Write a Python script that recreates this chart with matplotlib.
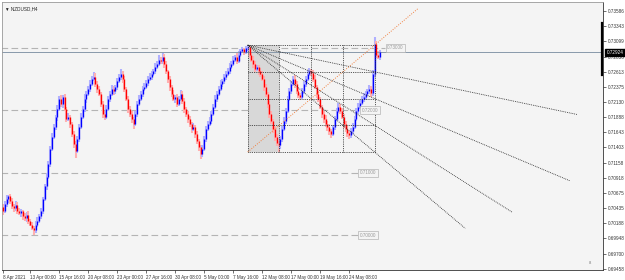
import matplotlib
matplotlib.use('Agg')
import matplotlib.pyplot as plt
from matplotlib.transforms import blended_transform_factory
from matplotlib.patches import Rectangle

# ---------------- data ----------------
first_open = 0.7045
closes = [
    0.7039, 0.7050, 0.7058, 0.7062, 0.7054, 0.7047, 0.7043, 0.7049, 0.7039, 0.7035, 0.7038,
    0.7030, 0.7027, 0.7033, 0.7023, 0.7017, 0.7012, 0.7009, 0.7017, 0.7023, 0.7030,
    0.7039, 0.7058, 0.7078, 0.7093, 0.7114, 0.7138, 0.7157, 0.7173, 0.7189, 0.7202,
    0.7218, 0.7210, 0.7221, 0.7202, 0.7186, 0.7189, 0.7178, 0.7162, 0.7146, 0.7135,
    0.7154, 0.7173, 0.7189, 0.7202, 0.7218, 0.7226, 0.7234, 0.7242, 0.7250, 0.7253,
    0.7242, 0.7234, 0.7226, 0.7210, 0.7194, 0.7189, 0.7202, 0.7218, 0.7226, 0.7234, 0.7230,
    0.7237, 0.7246, 0.7253, 0.7258, 0.7250, 0.7234, 0.7218, 0.7202, 0.7194, 0.7186,
    0.7178, 0.7194, 0.7210, 0.7218, 0.7226, 0.7234, 0.7237, 0.7243, 0.7250, 0.7253,
    0.7258, 0.7262, 0.7269, 0.7274, 0.7281, 0.7278, 0.7285, 0.7274, 0.7262, 0.7250,
    0.7237, 0.7226, 0.7218, 0.7221, 0.7210, 0.7218, 0.7226, 0.7215, 0.7202, 0.7194,
    0.7186, 0.7178, 0.7170, 0.7173, 0.7162, 0.7151, 0.7141, 0.7130, 0.7138, 0.7154,
    0.7170, 0.7178, 0.7183, 0.7194, 0.7205, 0.7218, 0.7226, 0.7234, 0.7242, 0.7246, 0.7253,
    0.7258, 0.7262, 0.7269, 0.7274, 0.7281, 0.7285, 0.7278, 0.7289, 0.7294, 0.7297, 0.7293, 0.7299, 0.7301,
    0.7289, 0.7281, 0.7274, 0.7266, 0.7269, 0.7262, 0.7258, 0.7250, 0.7237, 0.7226, 0.7210, 0.7194, 0.7183, 0.7170, 0.7157, 0.7148, 0.7144,
    0.7154, 0.7170, 0.7183, 0.7199, 0.7218, 0.7230, 0.7242, 0.7250, 0.7242, 0.7230,
    0.7224, 0.7221, 0.7230, 0.7242, 0.7250, 0.7258, 0.7262, 0.7259,
    0.7250, 0.7237, 0.7226, 0.7218, 0.7205, 0.7194, 0.7186, 0.7178, 0.7173, 0.7167, 0.7162, 0.7173,
    0.7186, 0.7199, 0.7205, 0.7199, 0.7189, 0.7178,
    0.7170, 0.7164, 0.7160, 0.7167, 0.7173, 0.7186, 0.7199, 0.7205,
    0.7211, 0.7218, 0.7221, 0.7226, 0.7230, 0.7234, 0.7227,
    0.7258, 0.7305, 0.7289, 0.7285, 0.72924,
]
upper_wick_pips = [
    5, 4, 6, 3, 4, 5, 3, 6, 4, 5, 4,
    3, 5, 4, 6, 3, 4, 3, 5, 6, 4,
    5, 3, 4, 6, 5, 4, 7, 5, 4, 6,
    5, 6, 4, 5, 3, 6, 4, 3, 4, 5,
    4, 5, 6, 4, 7, 5, 4, 6, 5, 8,
    6, 5, 4, 3, 5, 4, 6, 5, 4, 6, 5,
    4, 6, 5, 7, 4, 5, 3, 4, 5, 4,
    3, 5, 4, 6, 5, 4, 6, 5, 4, 6,
    5, 4, 6, 5, 7, 4, 6, 5, 4, 3,
    5, 4, 6, 3, 5, 4, 6, 5, 4, 3,
    4, 5, 3, 6, 4, 5, 3, 4, 6, 5,
    4, 5, 6, 4, 5, 6, 4, 5, 6, 4, 5,
    4, 5, 6, 4, 5, 4, 6, 5, 3, 4, 3, 3, 3,
    2, 4, 6, 5, 4, 3, 6, 5, 4, 5, 3, 4, 5, 3, 4, 5, 3,
    4, 5, 6, 4, 5, 6, 4, 5, 6, 4,
    5, 4, 6, 5, 4, 6, 5, 4,
    5, 6, 4, 5, 3, 4, 5, 6, 4, 5, 3, 4,
    5, 4, 6, 5, 4, 5,
    4, 5, 3, 4, 6, 5, 4, 6,
    5, 4, 6, 5, 4, 6, 5,
    6, 12, 6, 5, 4,
]
lower_wick_pips = [
    6, 4, 5, 7, 4, 5, 6, 4, 5, 3, 6,
    5, 4, 6, 5, 3, 4, 8, 5, 4, 3,
    4, 5, 3, 6, 4, 5, 3, 4, 5, 6,
    4, 5, 6, 4, 5, 3, 6, 5, 7, 12,
    4, 5, 3, 4, 5, 6, 4, 5, 3, 4,
    5, 6, 4, 5, 7, 5, 4, 3, 5, 4, 6,
    4, 5, 3, 4, 6, 5, 4, 6, 5, 7,
    8, 4, 5, 3, 4, 5, 4, 3, 5, 4,
    4, 3, 5, 4, 3, 5, 4, 6, 5, 7,
    6, 5, 4, 6, 5, 4, 3, 5, 6, 5,
    6, 5, 7, 4, 6, 5, 7, 8, 5, 4,
    5, 4, 3, 5, 4, 3, 5, 4, 3, 5, 4,
    4, 3, 5, 4, 3, 4, 5, 3, 4, 3, 4, 3, 4,
    5, 4, 6, 5, 4, 6, 5, 4, 6, 5, 7, 6, 5, 6, 7, 5, 11,
    6, 5, 4, 5, 3, 4, 5, 4, 6, 5,
    4, 5, 3, 4, 5, 4, 3, 4,
    5, 4, 6, 5, 4, 6, 7, 5, 6, 7, 6, 4,
    5, 4, 3, 5, 4, 6,
    5, 7, 6, 4, 5, 3, 4, 5,
    4, 3, 5, 4, 3, 4, 6,
    4, 5, 5, 4, 5,
]

x_tick_pos = [0, 15, 31, 47, 63, 79, 95, 111, 127, 143, 159, 175, 191]
x_tick_labels = ['8 Apr 2021', '13 Apr 00:00', '15 Apr 16:00', '20 Apr 08:00',
                 '23 Apr 00:00', '27 Apr 16:00', '30 Apr 08:00', '5 May 00:00',
                 '7 May 16:00', '12 May 08:00', '17 May 00:00', '19 May 16:00',
                 '24 May 08:00']
y_ticks = [0.73586, 0.73343, 0.73099, 0.72856, 0.72613, 0.72375, 0.72130, 0.71888,
           0.71643, 0.71403, 0.71158, 0.70918, 0.70675, 0.70435, 0.70188, 0.69948,
           0.69700, 0.69458]
y_tick_labels = ['%.5f' % v for v in y_ticks]

fib_levels = [0.7300, 0.7200, 0.7100, 0.7000]
fib_labels = ['0.73000', '0.72000', '0.71000', '0.70000']
fib_line_end = [211, 197, 196, 196]

gann_t0, gann_t1 = 135, 205
gann_hi, gann_lo = 0.7304, 0.7133
fan_ends = [317, 313, 281, 255]
symbol = 'NZDUSD,H4'

# ---------------- figure ----------------
W, H = 625, 280
fig = plt.figure(figsize=(W / 100, H / 100), dpi=100, facecolor='white')
ax = fig.add_axes([2 / W, 10 / H, 601 / W, 268 / H])
ax.set_facecolor('#f4f4f4')
ax.set_xlim(-0.55, 331.0)
ax.set_ylim(0.69442, 0.73730)

FONT = ['Liberation Sans', 'DejaVu Sans']
FS = 3.3

# round levels
for lvl, lab, xe in zip(fib_levels, fib_labels, fib_line_end):
    ax.plot([-1, xe], [lvl, lvl], color='#b4b4b4', lw=0.8, dashes=(6, 3), zorder=1)
    ax.text(xe + 1, lvl, lab, fontsize=FS, family=FONT, color='#9a9a9a',
            va='center', ha='left', zorder=6,
            bbox=dict(boxstyle='square,pad=0.35', fc='#f4f4f4', ec='#b4b4b4', lw=0.5))

# Gann box shading and grid
ax.add_patch(Rectangle((gann_t0, gann_lo), (gann_t1 - gann_t0) / 4, gann_hi - gann_lo,
                       facecolor='#d8d8d8', edgecolor='none', zorder=1))
DOT = (0, (1, 1.2))
for k in range(5):
    xv = gann_t0 + k * (gann_t1 - gann_t0) / 4
    ax.plot([xv, xv], [gann_lo, gann_hi], color='#222222', lw=0.6, ls=DOT, zorder=4)
    yv = gann_hi - k * (gann_hi - gann_lo) / 4
    ax.plot([gann_t0, gann_t1], [yv, yv], color='#222222', lw=0.6, ls=DOT, zorder=4)

# fan lines
for k, xe in enumerate(fan_ends, start=1):
    ye_box = gann_hi - k * (gann_hi - gann_lo) / 4
    slope = (ye_box - gann_hi) / (gann_t1 - gann_t0)
    ax.plot([gann_t0, xe], [gann_hi, gann_hi + slope * (xe - gann_t0)],
            color='#222222', lw=0.6, ls=DOT, zorder=4)

# orange diagonal
slope_o = (gann_hi - gann_lo) / (gann_t1 - gann_t0)
x_top = gann_t0 + (0.7362 - gann_lo) / slope_o
ax.plot([gann_t0, x_top], [gann_lo, 0.7362], color='#f08040', lw=0.7,
        ls=(0, (1, 1.5)), zorder=4)

# candles
opens = [first_open] + closes[:-1]
for i, (o, c) in enumerate(zip(opens, closes)):
    hi = max(o, c) + upper_wick_pips[i] * 0.0001
    lo = min(o, c) - lower_wick_pips[i] * 0.0001
    up = c >= o
    col = '#0000ff' if up else '#ff0000'
    halo = '#b0b0ff' if up else '#ffb0b0'
    ax.plot([i, i], [lo, hi], color=halo, lw=1.5, solid_capstyle='butt', zorder=2)
    b0, b1 = min(o, c), max(o, c)
    if b1 - b0 < 0.00004:
        b1 = b0 + 0.00004
    ax.plot([i, i], [b0, b1], color=col, lw=0.95, solid_capstyle='butt', zorder=3)

# current price line
last = closes[-1]
ax.axhline(last, color='#8899aa', lw=0.7, zorder=2)

# axes styling
for s in ['top', 'left']:
    ax.spines[s].set_color('#9a9a9a')
    ax.spines[s].set_linewidth(0.6)
for s in ['right', 'bottom']:
    ax.spines[s].set_color('#333333')
    ax.spines[s].set_linewidth(0.6)

ax.yaxis.tick_right()
ax.set_yticks(y_ticks)
ax.set_yticklabels(y_tick_labels, fontsize=FS, family=FONT, color='#222222')
ax.tick_params(axis='y', length=2, width=0.5, pad=1.5, colors='#333333')

ax.set_xticks(x_tick_pos)
ax.set_xticklabels(x_tick_labels, fontsize=FS, family=FONT, color='#222222', ha='left')
ax.tick_params(axis='x', length=2, width=0.5, pad=1.5, colors='#333333')

# price tag on axis
trans = blended_transform_factory(ax.transAxes, ax.transData)
ax.text(1.006, last, '%.5f' % last, transform=trans, fontsize=FS, family=FONT,
        color='white', va='center', ha='left', zorder=10, clip_on=False,
        bbox=dict(boxstyle='square,pad=0.25', fc='black', ec='black'))
ax.plot([0.9985, 0.9985], [0.72562, 0.73394], transform=trans, color='black',
        lw=1.6, clip_on=False, zorder=9)

# title
ax.text(0.005, 0.985, '\u25bc ' + symbol, transform=ax.transAxes, fontsize=FS,
        family=FONT, color='#222222', va='top', ha='left')
ax.text(0.978, 0.02, '8', transform=ax.transAxes, fontsize=3, family=FONT,
        color='#777777', va='bottom', ha='center')

fig.savefig('out.png', dpi=100, facecolor='white')
